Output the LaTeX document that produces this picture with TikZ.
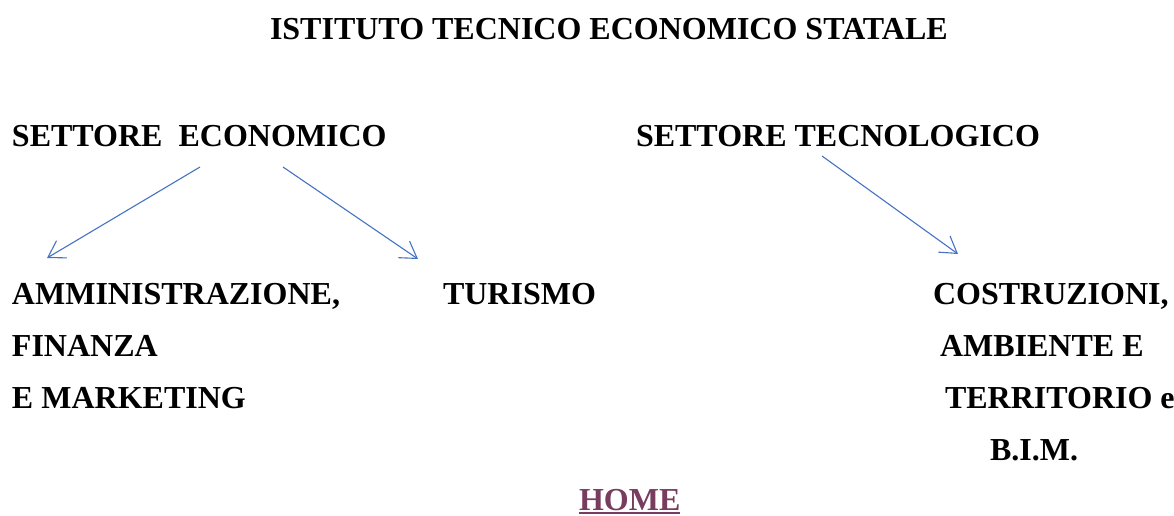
\documentclass[tikz,border=0pt]{standalone}
\usepackage{fontspec}
\setmainfont{Liberation Serif}
\usetikzlibrary{arrows.meta}
\definecolor{arrowblue}{RGB}{68,114,196}
\definecolor{homecol}{RGB}{120,60,95}
\tikzset{
  lbl/.style={anchor=base west, inner sep=0pt, outer sep=0pt, font=\fontsize{32}{38}\selectfont\bfseries},
  arr/.style={draw=arrowblue, line width=1.1pt, -{Straight Barb[length=16pt,width=20pt,line width=1.1pt]}}
}
\begin{document}
\begin{tikzpicture}[x=1pt,y=-1pt]
\useasboundingbox (0,0) rectangle (1174,515);
\node[lbl] (title) at (270,39) {ISTITUTO TECNICO ECONOMICO STATALE};
\node[lbl] (seco) at (12,146) {SETTORE\ \ ECONOMICO};
\node[lbl] (stec) at (636,146) {SETTORE TECNOLOGICO};
\node[lbl] (amm) at (12,304) {AMMINISTRAZIONE,};
\node[lbl] (fin) at (12,356) {FINANZA};
\node[lbl] (mkt) at (12,408) {E MARKETING};
\node[lbl] (tur) at (443,304) {TURISMO};
\node[lbl] (cos) at (933,304) {COSTRUZIONI,};
\node[lbl] (amb) at (940,356) {AMBIENTE E};
\node[lbl] (ter) at (945,408) {TERRITORIO e};
\node[lbl] (bim) at (990,460) {B.I.M.};
\node[lbl, text=homecol] (home) at (579,510) {HOME};
\draw[homecol, line width=1.6pt] ([yshift=-3pt]home.base west) -- ([yshift=-3pt]home.base east);
\coordinate (a1s) at (200,167);
\coordinate (a1e) at (47,258);
\coordinate (a2s) at (283,167);
\coordinate (a2e) at (418,259);
\coordinate (a3s) at (822,156);
\coordinate (a3e) at (958,254);
\draw[arr] (a1s) -- (a1e);
\draw[arr] (a2s) -- (a2e);
\draw[arr] (a3s) -- (a3e);
\end{tikzpicture}
\end{document}
